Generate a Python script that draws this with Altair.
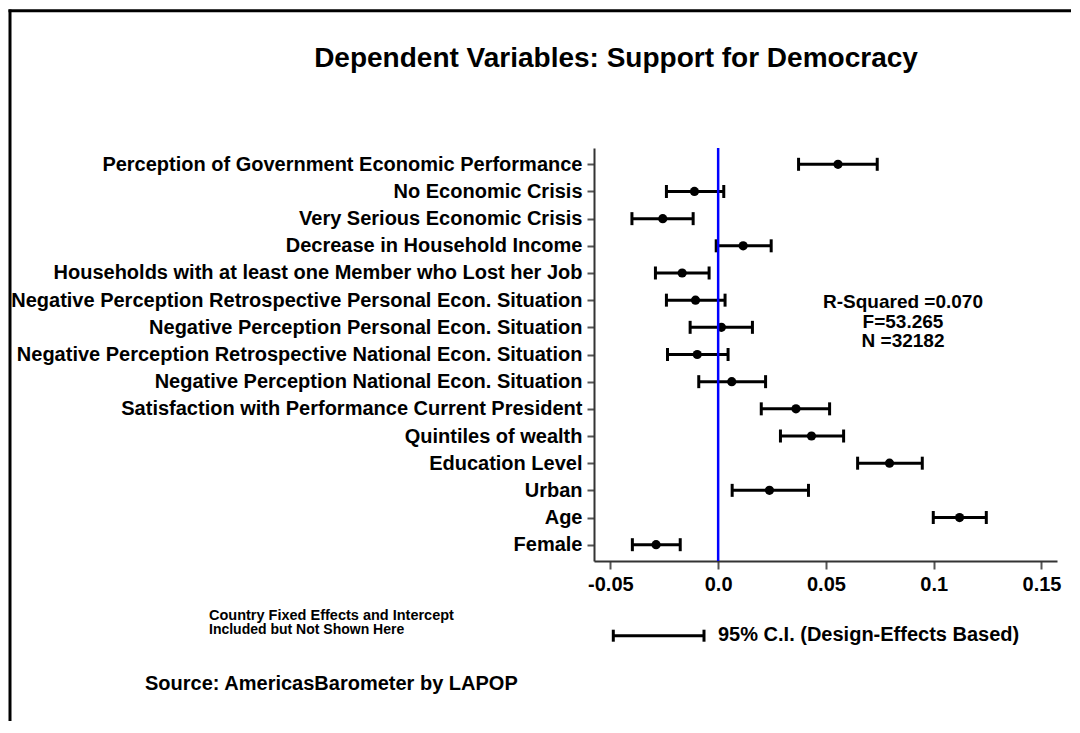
import altair as alt
import pandas as pd

labels = [
    "Perception of Government Economic Performance",
    "No Economic Crisis",
    "Very Serious Economic Crisis",
    "Decrease in Household Income",
    "Households with at least one Member who Lost her Job",
    "Negative Perception Retrospective Personal Econ. Situation",
    "Negative Perception Personal Econ. Situation",
    "Negative Perception Retrospective National Econ. Situation",
    "Negative Perception National Econ. Situation",
    "Satisfaction with Performance Current President",
    "Quintiles of wealth",
    "Education Level",
    "Urban",
    "Age",
    "Female",
]
coef = [0.0556, -0.0110, -0.0257, 0.0116, -0.0167, -0.0105, 0.0015, -0.0097,
        0.0063, 0.0361, 0.0433, 0.0795, 0.0238, 0.1120, -0.0288]
lower = [0.0373, -0.0240, -0.0400, -0.0009, -0.0291, -0.0240, -0.0130, -0.0235,
         -0.0090, 0.0200, 0.0289, 0.0647, 0.0065, 0.0998, -0.0398]
upper = [0.0738, 0.0026, -0.0116, 0.0246, -0.0042, 0.0032, 0.0159, 0.0046,
         0.0220, 0.0517, 0.0582, 0.0947, 0.0419, 0.1244, -0.0176]
x_ticks = [-0.05, 0.0, 0.05, 0.1, 0.15]
x_domain = [-0.0576, 0.1572]

df = pd.DataFrame({"var": labels, "coef": coef, "lo": lower, "hi": upper})

FONT = "Liberation Sans"

xscale = alt.Scale(domain=x_domain, nice=False, zero=False)
yscale = alt.Scale(type="point", padding=0.6, domain=labels)

xaxis = alt.Axis(
    values=x_ticks,
    labelExpr="datum.value == 0 ? '0.0' : '' + datum.value",
    grid=False, tickSize=8, labelPadding=5, title=None,
)
yaxis = alt.Axis(grid=False, tickSize=7, labelPadding=5, labelLimit=0, title=None)

base = alt.Chart(df)

bars = base.mark_rule(strokeWidth=3, color="black").encode(
    x=alt.X("lo:Q", scale=xscale, axis=xaxis),
    x2="hi:Q",
    y=alt.Y("var:N", scale=yscale, axis=yaxis, sort=labels),
)
cap_lo = base.mark_tick(size=13, thickness=3, color="black", opacity=1).encode(
    x="lo:Q", y=alt.Y("var:N", sort=labels)
)
cap_hi = base.mark_tick(size=13, thickness=3, color="black", opacity=1).encode(
    x="hi:Q", y=alt.Y("var:N", sort=labels)
)
pts = base.mark_circle(size=85, color="black", opacity=1).encode(
    x="coef:Q", y=alt.Y("var:N", sort=labels)
)
zero = alt.Chart(pd.DataFrame({"z": [0.0]})).mark_rule(
    color="#0000ff", strokeWidth=2.5
).encode(x="z:Q")

one = alt.Data(values=[{}])


def txt(t, x, y, size, align="left"):
    return alt.Chart(one).mark_text(
        text=t, font=FONT, fontWeight="bold", fontSize=size, align=align,
        baseline="alphabetic", color="black",
    ).encode(x=alt.value(x), y=alt.value(y))


def line(x, y, x2=None, y2=None, w=3):
    enc = {"x": alt.value(x), "y": alt.value(y)}
    if x2 is not None:
        enc["x2"] = alt.value(x2)
    if y2 is not None:
        enc["y2"] = alt.value(y2)
    return alt.Chart(one).mark_rule(color="black", strokeWidth=w).encode(**enc)


annotations = [
    txt("Dependent Variables: Support for Democracy", 22, -81.5, 28, "center"),
    txt("R-Squared =0.070", 309, 160, 19, "center"),
    txt("F=53.265", 309, 179.5, 19, "center"),
    txt("N =32182", 309, 199, 19, "center"),
    txt("95% C.I. (Design-Effects Based)", 124, 493, 20, "left"),
    txt("Country Fixed Effects and Intercept", -385, 471.5, 14.5, "left"),
    txt("Included but Not Shown Here", -385, 485.5, 14, "left"),
    txt("Source: AmericasBarometer by LAPOP", -449, 542, 20, "left"),
    # legend key
    line(19.3, 487.7, x2=110),
    line(19.3, 481.7, y2=493.7),
    line(110, 481.7, y2=493.7),
    # frame
    line(-584, -138.5, y2=700),
    line(-585.5, -137.2, x2=700),
]

chart = alt.layer(bars, cap_lo, cap_hi, pts, zero, *annotations).properties(
    width=463,
    height=413,
    padding={"left": 586, "top": 140, "right": 14, "bottom": 160},
    autosize=alt.AutoSizeParams(type="none"),
).configure_view(strokeOpacity=0).configure_axis(
    labelFont=FONT, labelFontSize=20, labelFontWeight="bold", labelColor="black",
    domainColor="#333333", domainWidth=2, tickColor="#555555", tickWidth=2,
)

chart.save("out.html", embed_options={"renderer": "svg", "actions": False})
